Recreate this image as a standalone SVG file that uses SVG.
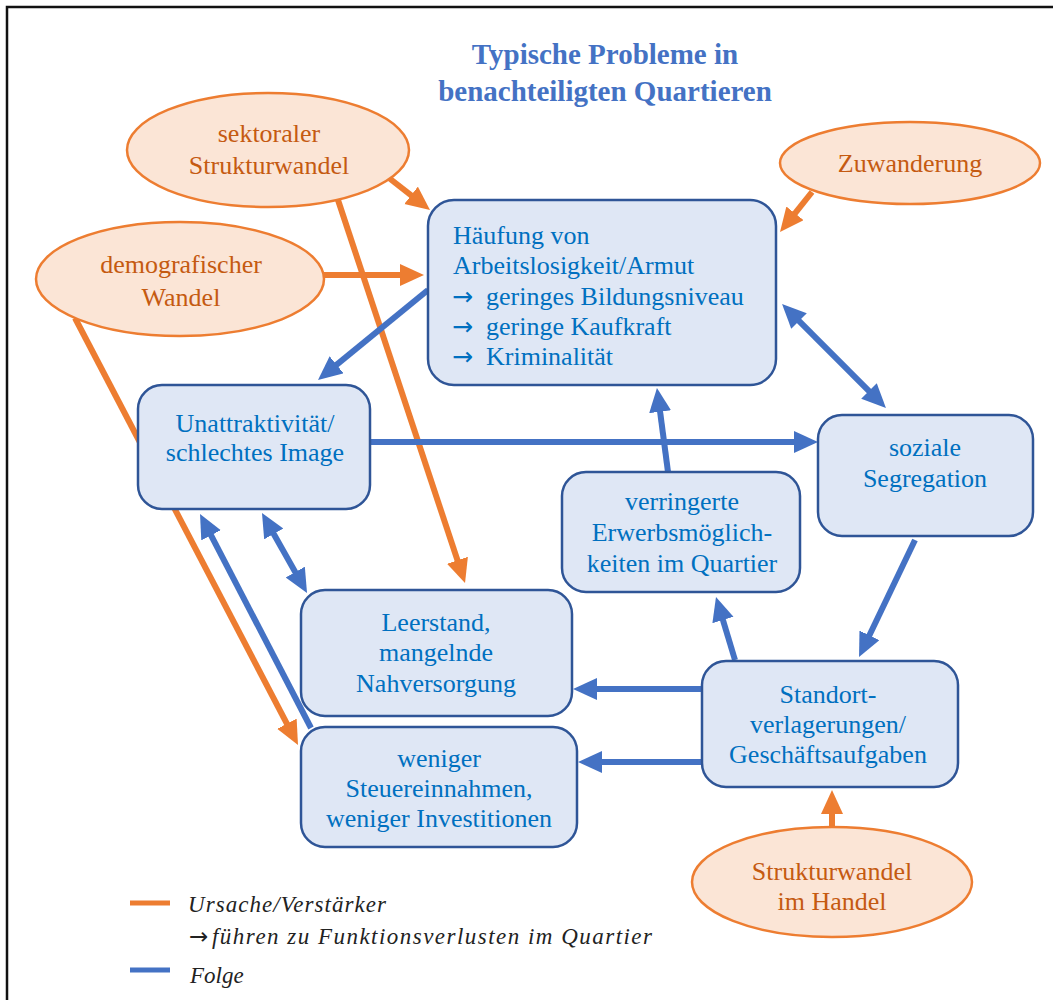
<svg xmlns="http://www.w3.org/2000/svg" width="1053" height="1000" viewBox="0 0 1053 1000">
<defs>
<marker id="ao" markerUnits="userSpaceOnUse" markerWidth="26" markerHeight="24" refX="16" refY="11" orient="auto-start-reverse"><path d="M0,0 L24,11 L0,22 z" fill="#ED7D31"/></marker>
<marker id="ab" markerUnits="userSpaceOnUse" markerWidth="26" markerHeight="24" refX="16" refY="11" orient="auto-start-reverse"><path d="M0,0 L24,11 L0,22 z" fill="#4472C4"/></marker>
</defs>
<style>
.box{fill:#DFE7F5;stroke:#2F5597;stroke-width:2.5}
.ell{fill:#FBE5D6;stroke:#ED7D31;stroke-width:2.5}
.bt{font-family:"Liberation Serif","Times New Roman",serif;font-size:26px;fill:#0070C0;text-anchor:middle}
.et{font-family:"Liberation Serif","Times New Roman",serif;font-size:26px;fill:#C55A11;text-anchor:middle}
.or{stroke:#ED7D31;stroke-width:6;fill:none}
.bl{stroke:#4472C4;stroke-width:6;fill:none}
.lg{font-family:"Liberation Serif","Times New Roman",serif;font-style:italic;font-size:23px;fill:#222}
.ar{font-family:"DejaVu Sans",sans-serif;font-size:25px;font-style:normal}
</style>
<rect x="7" y="7" width="1060" height="1010" fill="#fff" stroke="#111" stroke-width="2.5"/>
<g id="title">
<text x="605" y="64" style="font-family:'Liberation Serif',serif;font-weight:bold;font-size:29px;fill:#4472C4;text-anchor:middle">Typische Probleme in</text>
<text x="605" y="101" style="font-family:'Liberation Serif',serif;font-weight:bold;font-size:29px;fill:#4472C4;text-anchor:middle">benachteiligten  Quartieren</text>
</g>
<g id="connectors">
<line class="or" x1="389" y1="178" x2="423.7" y2="205.1" marker-end="url(#ao)"/>
<line class="or" x1="323" y1="275" x2="416" y2="275" marker-end="url(#ao)"/>
<line class="or" x1="338" y1="200" x2="462.5" y2="575.4" marker-end="url(#ao)"/>
<line class="or" x1="75" y1="318" x2="294.3" y2="737.9" marker-end="url(#ao)"/>
<line class="or" x1="812" y1="192" x2="785" y2="225.8" marker-end="url(#ao)"/>
<line class="or" x1="832" y1="827" x2="832" y2="798" marker-end="url(#ao)"/>
<line class="bl" x1="428" y1="290" x2="324.2" y2="374.9" marker-end="url(#ab)"/>
<line class="bl" x1="370" y1="442" x2="810" y2="442" marker-end="url(#ab)"/>
<line class="bl" x1="787.7" y1="309.7" x2="880.3" y2="402.3" marker-start="url(#ab)" marker-end="url(#ab)"/>
<line class="bl" x1="668" y1="472" x2="658" y2="395.9" marker-end="url(#ab)"/>
<line class="bl" x1="915" y1="540" x2="862.5" y2="649.8" marker-end="url(#ab)"/>
<line class="bl" x1="735" y1="660" x2="718.3" y2="604.7" marker-end="url(#ab)"/>
<line class="bl" x1="702" y1="689" x2="581" y2="689" marker-end="url(#ab)"/>
<line class="bl" x1="702" y1="762" x2="586" y2="762" marker-end="url(#ab)"/>
<line class="bl" x1="265.9" y1="520" x2="303.1" y2="586" marker-start="url(#ab)" marker-end="url(#ab)"/>
<line class="bl" x1="311" y1="728" x2="203.7" y2="521.1" marker-end="url(#ab)"/>
</g>
<g id="sektoraler">
<ellipse class="ell" cx="268" cy="150" rx="141" ry="57"/>
<text class="et" x="269" y="142">sektoraler</text>
<text class="et" x="269" y="174">Strukturwandel</text>
</g>
<g id="demografischer">
<ellipse class="ell" cx="180" cy="279" rx="144" ry="57"/>
<text class="et" x="181" y="273">demografischer</text>
<text class="et" x="181" y="306">Wandel</text>
</g>
<g id="zuwanderung">
<ellipse class="ell" cx="910" cy="163" rx="130" ry="41"/>
<text class="et" x="910" y="172">Zuwanderung</text>
</g>
<g id="handel">
<ellipse class="ell" cx="832" cy="882" rx="140" ry="55"/>
<text class="et" x="832" y="880">Strukturwandel</text>
<text class="et" x="832" y="910">im Handel</text>
</g>
<g id="haeufung">
<rect class="box" x="428" y="200" width="348" height="185" rx="26"/>
<text class="bt" x="453" y="244" style="text-anchor:start">Häufung von</text>
<text class="bt" x="453" y="274" style="text-anchor:start">Arbeitslosigkeit/Armut</text>
<text class="bt" x="452" y="305" style="text-anchor:start"><tspan class="ar">→</tspan><tspan x="486">geringes Bildungsniveau</tspan></text>
<text class="bt" x="452" y="335" style="text-anchor:start"><tspan class="ar">→</tspan><tspan x="486">geringe Kaufkraft</tspan></text>
<text class="bt" x="452" y="365" style="text-anchor:start"><tspan class="ar">→</tspan><tspan x="486">Kriminalität</tspan></text>
</g>
<g id="unattraktivitaet">
<rect class="box" x="138" y="385" width="232" height="124" rx="24"/>
<text class="bt" x="255" y="432">Unattraktivität/</text>
<text class="bt" x="255" y="461">schlechtes Image</text>
</g>
<g id="segregation">
<rect class="box" x="818" y="415" width="215" height="121" rx="24"/>
<text class="bt" x="925" y="456">soziale</text>
<text class="bt" x="925" y="487">Segregation</text>
</g>
<g id="erwerb">
<rect class="box" x="562" y="472" width="238" height="120" rx="24"/>
<text class="bt" x="682" y="510">verringerte</text>
<text class="bt" x="682" y="541">Erwerbsmöglich-</text>
<text class="bt" x="682" y="572">keiten im Quartier</text>
</g>
<g id="leerstand">
<rect class="box" x="301" y="590" width="271" height="126" rx="24"/>
<text class="bt" x="436" y="631">Leerstand,</text>
<text class="bt" x="436" y="661">mangelnde</text>
<text class="bt" x="436" y="692">Nahversorgung</text>
</g>
<g id="steuer">
<rect class="box" x="301" y="727" width="276" height="120" rx="24"/>
<text class="bt" x="439" y="767">weniger</text>
<text class="bt" x="439" y="797">Steuereinnahmen,</text>
<text class="bt" x="439" y="827">weniger Investitionen</text>
</g>
<g id="standort">
<rect class="box" x="702" y="661" width="256" height="126" rx="24"/>
<text class="bt" x="828" y="703">Standort-</text>
<text class="bt" x="828" y="733">verlagerungen/</text>
<text class="bt" x="828" y="763">Geschäftsaufgaben</text>
</g>
<g id="legend">
<line x1="130" y1="903" x2="170" y2="903" stroke="#ED7D31" stroke-width="5"/>
<line x1="130" y1="970" x2="170" y2="970" stroke="#4472C4" stroke-width="5"/>
<text class="lg" x="188" y="912" textLength="198" lengthAdjust="spacing">Ursache/Verstärker</text>
<text class="lg" x="189" y="944"><tspan class="ar" style="font-size:23px">→</tspan><tspan x="212" textLength="440" lengthAdjust="spacing">führen zu Funktionsverlusten im Quartier</tspan></text>
<text class="lg" x="190" y="983">Folge</text>
</g>
</svg>
